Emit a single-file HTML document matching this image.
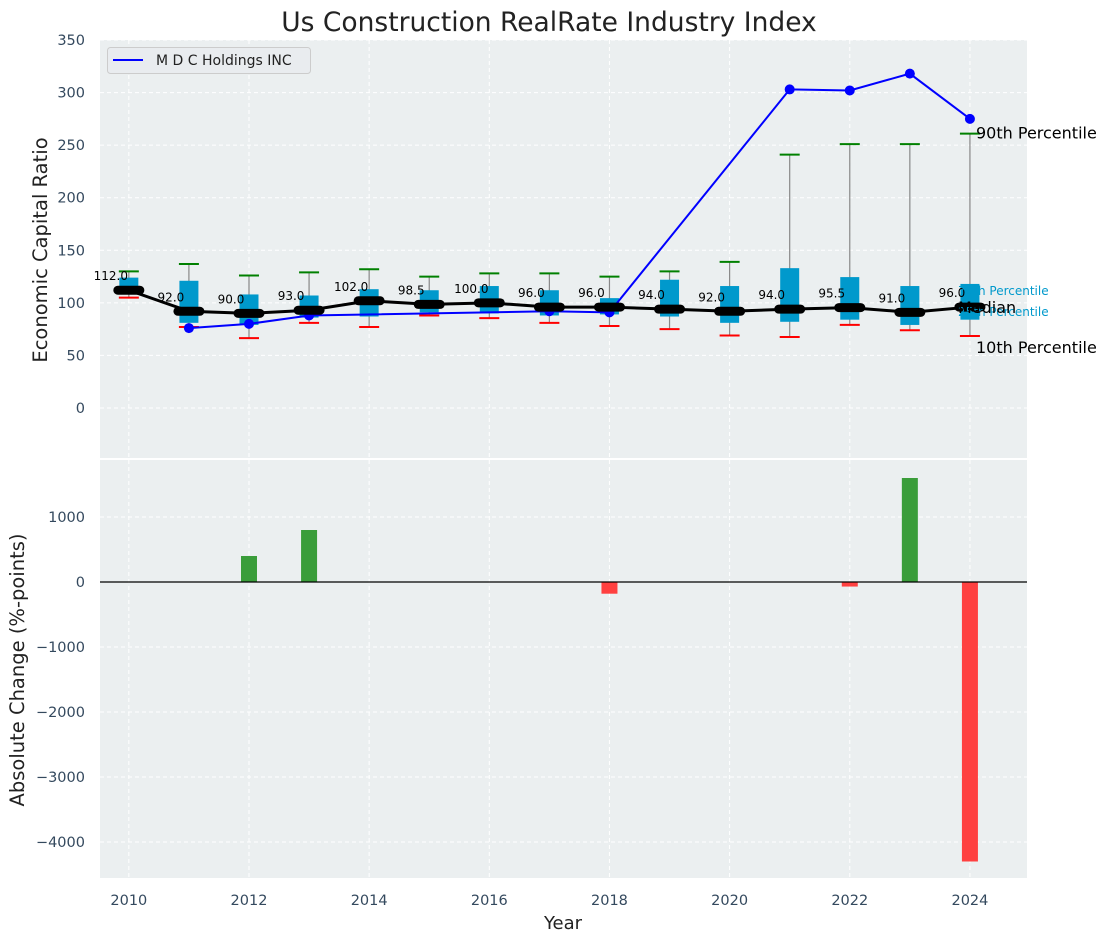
<!DOCTYPE html>
<html><head><meta charset="utf-8"><style>
body{margin:0;background:#fff;}
svg text{font-family:"DejaVu Sans","Liberation Sans",sans-serif;}
</style></head><body>
<svg id="c" width="1111" height="942" xmlns="http://www.w3.org/2000/svg"></svg>
<script>
const years=[2010,2011,2012,2013,2014,2015,2016,2017,2018,2019,2020,2021,2022,2023,2024];
const p90=[130,137,126,129,132,125,128,128,125,130,139,241,251,251,261];
const q75=[124,121,108,107,113,112,116,112,104.5,122,116,133,124.5,116,118];
const q25=[108,81,79,86,87,91,90,88,89,87,81,82,84,79,84];
const p10=[105,77,66.5,81,77,88,85.5,81,78,75,69,67.5,79,74,68.5];
const median=[112,92,90,93,102,98.5,100,96,96,94,92,94,95.5,91,96];
const company=[null,76,80,88,null,null,null,92,91,null,null,303,302,318,275];
const changeYears=[2012,2013,2018,2022,2023,2024];
const changeVals=[400,800,-180,-70,1600,-4300];
const topTicks=[0,50,100,150,200,250,300,350];
const botTicks=[-4000,-3000,-2000,-1000,0,1000];
const xTicks=[2010,2012,2014,2016,2018,2020,2022,2024];

const svg=document.getElementById('c');
const NS='http://www.w3.org/2000/svg';
function mk(tag,attrs,parent){const e=document.createElementNS(NS,tag);for(const k in attrs)e.setAttribute(k,attrs[k]);(parent||svg).appendChild(e);return e;}
const L=100,R=1027;
const x=v=>L+(v-2009.52)/(2024.95-2009.52)*(R-L);
const yT=v=>408-v*(368/350);
const yB=v=>582-v*0.065;

let e;
e=mk('rect',{x:L,y:40,width:R-L,height:418,fill:'#ebeff0'});


e=mk('rect',{x:L,y:460,width:R-L,height:418,fill:'#ebeff0'});



xTicks.forEach(t=>{
  e=mk('line',{x1:x(t),x2:x(t),y1:40,y2:458,stroke:'#fff','stroke-dasharray':'4,3'});
  
  
  e=mk('line',{x1:x(t),x2:x(t),y1:460,y2:878,stroke:'#fff','stroke-dasharray':'4,3'});
  
  
  e=mk('text',{x:x(t),y:905,'text-anchor':'middle','font-size':14.5,fill:'#34495e'});
  e.textContent=t;
  
  
});
topTicks.forEach(t=>{
  e=mk('line',{x1:L,x2:R,y1:yT(t),y2:yT(t),stroke:'#fff','stroke-dasharray':'4,3'});
  
  
  e=mk('text',{x:85,y:yT(t)+5,'text-anchor':'end','font-size':14.5,fill:'#34495e'});
  e.textContent=t;
  
  
});
botTicks.forEach(t=>{
  e=mk('line',{x1:L,x2:R,y1:yB(t),y2:yB(t),stroke:'#fff','stroke-dasharray':'4,3'});
  
  
  e=mk('text',{x:85,y:yB(t)+5,'text-anchor':'end','font-size':14.5,fill:'#34495e'});
  e.textContent=(t<0?'\u2212'+(-t):t);
  
  
});

years.forEach((yr,i)=>{
  const cx=x(yr);
  e=mk('line',{x1:cx,x2:cx,y1:yT(p10[i]),y2:yT(p90[i]),stroke:'#888','stroke-width':1.2});
  
  
  e=mk('rect',{x:cx-9.5,y:yT(q75[i]),width:19,height:yT(q25[i])-yT(q75[i]),fill:'#0099cc'});
  
  
  e=mk('line',{x1:cx-10,x2:cx+10,y1:yT(p90[i]),y2:yT(p90[i]),stroke:'green','stroke-width':2});
  
  
  e=mk('line',{x1:cx-10,x2:cx+10,y1:yT(p10[i]),y2:yT(p10[i]),stroke:'red','stroke-width':2});
  
  
});

let pts=[];
years.forEach((yr,i)=>{if(company[i]!==null)pts.push([x(yr),yT(company[i])]);});
e=mk('polyline',{points:pts.map(p=>p.join(',')).join(' '),fill:'none',stroke:'blue','stroke-width':2});


pts.forEach(p=>{
  e=mk('circle',{cx:p[0],cy:p[1],r:5,fill:'blue'});
  
  
});

e=mk('polyline',{points:years.map((yr,i)=>x(yr)+','+yT(median[i])).join(' '),fill:'none',stroke:'#000','stroke-width':3});


years.forEach((yr,i)=>{
  e=mk('line',{x1:x(yr)-11,x2:x(yr)+11,y1:yT(median[i]),y2:yT(median[i]),stroke:'#000','stroke-width':9,'stroke-linecap':'round'});
  
  
  e=mk('text',{x:x(yr)-18,y:yT(median[i])-10,'text-anchor':'middle','font-size':12,fill:'#000'});
  e.textContent=median[i].toFixed(1);
  
  
});

const lab=[['90th Percentile',976,yT(p90[14])+5,16,'#000'],['75th Percentile',958,295,12,'#0099cc'],['25th Percentile',958,316,12,'#0099cc'],['Median',958,313,16,'#000'],['10th Percentile',976,yT(p10[14])+17,16,'#000']];
lab.forEach(l=>{
  e=mk('text',{x:l[1],y:l[2],'font-size':l[3],fill:l[4]});
  e.textContent=l[0];
  
  
});

changeYears.forEach((yr,i)=>{
  const v=changeVals[i];
  e=mk('rect',{x:x(yr)-8,y:Math.min(yB(0),yB(v)),width:16,height:Math.abs(yB(v)-yB(0)),fill:v>=0?'#3a9d3a':'#ff4040'});
  
  
});
e=mk('line',{x1:L,x2:R,y1:yB(0),y2:yB(0),stroke:'#000','stroke-width':1.2});



e=mk('rect',{x:107.5,y:47.5,width:203,height:26,rx:3,fill:'#e9ecef',stroke:'#ccc'});


e=mk('line',{x1:113,x2:143,y1:60,y2:60,stroke:'blue','stroke-width':2});


e=mk('text',{x:156,y:65,'font-size':14,fill:'#222'});
e.textContent='M D C Holdings INC';



e=mk('text',{x:549,y:31,'text-anchor':'middle','font-size':26.5,fill:'#222'});
e.textContent='Us Construction RealRate Industry Index';


e=mk('text',{x:47,y:250,'text-anchor':'middle','font-size':19.5,fill:'#222',transform:'rotate(-90 47 250)'});
e.textContent='Economic Capital Ratio';


e=mk('text',{x:24,y:670,'text-anchor':'middle','font-size':19.5,fill:'#222',transform:'rotate(-90 24 670)'});
e.textContent='Absolute Change (%-points)';


e=mk('text',{x:563,y:929,'text-anchor':'middle','font-size':18,fill:'#222'});
e.textContent='Year';


</script>
</body></html>
